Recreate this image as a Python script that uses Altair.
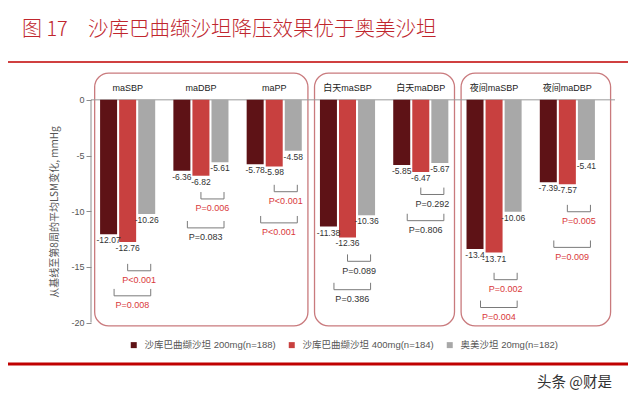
import altair as alt
import pandas as pd

# ---------------- data ----------------
groups = ["maSBP", "maDBP", "maPP", "白天maSBP", "白天maDBP", "夜间maSBP", "夜间maDBP"]
series = ["沙库巴曲缬沙坦 200mg(n=188)", "沙库巴曲缬沙坦 400mg(n=184)", "奥美沙坦 20mg(n=182)"]
sacu_200 = [-12.07, -6.36, -5.78, -11.38, -5.85, -13.4, -7.39]
sacu_400 = [-12.76, -6.82, -5.98, -12.36, -6.47, -13.71, -7.57]
olme_20 = [-10.26, -5.61, -4.58, -10.36, -5.67, -10.06, -5.41]

# P values: 400mg vs olmesartan (upper bracket), 200mg vs olmesartan (lower bracket)
p_400_vs_olme = ["P<0.001", "P=0.006", "P<0.001", "P=0.089", "P=0.292", "P=0.002", "P=0.005"]
p_200_vs_olme = ["P=0.008", "P=0.083", "P<0.001", "P=0.386", "P=0.806", "P=0.004", "P=0.009"]
# bracket levels (in mmHg on the y axis)
level_400_vs_olme = [-15.35, -8.9, -8.25, -14.5, -8.5, -16.15, -10.05]
level_200_vs_olme = [-17.6, -11.5, -11.05, -17.05, -10.85, -18.65, -13.25]

# panels (rounded boxes): first and last group index
panel_first = [0, 3, 5]
panel_last = [2, 4, 6]

y_title = "从基线至第8周的平均LSM变化, mmHg"
fig_no = "图 17"
fig_title = "沙库巴曲缬沙坦降压效果优于奥美沙坦"
watermark = "头条 @财是"

colors = ["#5e1216", "#c8403f", "#a8a8a8"]

# ---------------- tables ----------------
rows = []
for gi, g in enumerate(groups):
    for si, vals in enumerate([sacu_200, sacu_400, olme_20]):
        rows.append({"group": g, "gi": gi, "series": series[si], "si": si,
                     "value": vals[gi], "label": str(vals[gi])})
bars_df = pd.DataFrame(rows)


def is_sig(p):
    return p.startswith("P<") or float(p[2:]) < 0.05


brows = []
for gi in range(len(groups)):
    brows.append({"gi": gi, "from_si": 1, "to_si": 2, "level": level_400_vs_olme[gi],
                  "label": p_400_vs_olme[gi], "sig": is_sig(p_400_vs_olme[gi])})
    brows.append({"gi": gi, "from_si": 0, "to_si": 2, "level": level_200_vs_olme[gi],
                  "label": p_200_vs_olme[gi], "sig": is_sig(p_200_vs_olme[gi])})
br_df = pd.DataFrame(brows)

grp_df = pd.DataFrame({"group": groups, "gi": list(range(len(groups)))})
panel_df = pd.DataFrame({"first": panel_first, "last": panel_last})
one = pd.DataFrame({"k": [0]})

# ---------------- scales / styles ----------------
latin = "Liberation Sans, Noto Sans CJK SC, sans-serif"
cjk = "Noto Sans CJK SC"
xscale = alt.Scale(domain=[-0.5, 6.5], nice=False, zero=False)
yscale = alt.Scale(domain=[-20.4, 2.5], nice=False, zero=False)

yaxis = alt.Axis(values=[0, -5, -10, -15, -20], domain=False, grid=False,
                 tickSize=5, tickColor="#8c8c8c", labelColor="#555555",
                 labelFontSize=9, labelFont=latin, labelPadding=2,
                 labelExpr="'' + datum.value",
                 title=y_title, titleFontSize=10, titleFont=cjk, titleColor="#555555",
                 titleFontWeight="normal", titleX=-37, titleY=139.5, titleAngle=270,
                 titleAlign="center", titleBaseline="middle")


def X(f):
    return alt.X(f, scale=xscale, axis=None)


def Y(f):
    return alt.Y(f, scale=yscale, axis=yaxis)


bar_pos = dict(xc="datum.gi + (datum.si - 1) * 0.26",
               xl="datum.gi + (datum.si - 1) * 0.26 - 0.116",
               xr="datum.gi + (datum.si - 1) * 0.26 + 0.116",
               base="0")

bars = alt.Chart(bars_df).transform_calculate(**bar_pos).mark_rect().encode(
    x=X("xl:Q"),
    x2="xr:Q",
    y=Y("value:Q"),
    y2="base:Q",
    color=alt.Color("series:N", scale=alt.Scale(domain=series, range=colors),
                    legend=alt.Legend(orient="none", legendX=38, legendY=268,
                                      direction="horizontal", title=None,
                                      symbolType="square", symbolSize=36,
                                      symbolStrokeWidth=0, labelFontSize=9.5,
                                      labelColor="#555555", labelFont=latin,
                                      columnPadding=11, labelOffset=6, padding=0)),
)

value_labels = alt.Chart(bars_df).transform_calculate(**bar_pos).mark_text(
    baseline="top", dy=2, fontSize=8.5, color="#333333", font=latin
).encode(x=X("xc:Q"), y=Y("value:Q"), text="label:N")

br_base = alt.Chart(br_df).transform_calculate(
    xa="datum.gi + (datum.from_si - 1) * 0.26 + (datum.from_si == 0 ? 0.075 : 0)",
    xb="datum.gi + (datum.to_si - 1) * 0.26 + 0.055",
).transform_calculate(
    xm="(datum.xa + datum.xb) / 2", top="datum.level + 0.62", ty="datum.level - 0.85")

br_h = br_base.mark_rule(color="#7a7a7a", strokeWidth=1).encode(
    x=X("xa:Q"), x2="xb:Q", y=Y("level:Q"))
br_l = br_base.mark_rule(color="#7a7a7a", strokeWidth=1).encode(
    x=X("xa:Q"), y=Y("level:Q"), y2="top:Q")
br_r = br_base.mark_rule(color="#7a7a7a", strokeWidth=1).encode(
    x=X("xb:Q"), y=Y("level:Q"), y2="top:Q")
p_sig = br_base.transform_filter("datum.sig").mark_text(
    fontSize=9, color="#d9383a", font=latin, baseline="middle").encode(
    x=X("xm:Q"), y=Y("ty:Q"), text="label:N")
p_ns = br_base.transform_filter("!datum.sig").mark_text(
    fontSize=9, color="#333333", font=latin, baseline="middle").encode(
    x=X("xm:Q"), y=Y("ty:Q"), text="label:N")

grp_labels = alt.Chart(grp_df).transform_calculate(ly="1.08").mark_text(
    fontSize=9, color="#222222", font=latin, baseline="middle").encode(
    x=X("gi:Q"), y=Y("ly:Q"), text="group:N")

boxes = alt.Chart(panel_df).transform_calculate(
    x0="datum.first - 0.45",
    x1="datum.last + (datum.last == 6 ? 0.59 : 0.46)",
    y0="2.4", y1="-20.3",
).mark_rect(fillOpacity=0, stroke="#c97a7d", strokeWidth=1.3, cornerRadius=14).encode(
    x=X("x0:Q"), x2="x1:Q", y=Y("y0:Q"), y2="y1:Q")

zero_line = alt.Chart(one).transform_calculate(
    a="-0.5", b="6.65", c="0").mark_rule(color="#9a9a9a", strokeWidth=1).encode(
    x=X("a:Q"), x2="b:Q", y=Y("c:Q"))
axis_line = alt.Chart(one).transform_calculate(
    a="-0.5", c="0", d="-20").mark_rule(color="#8c8c8c", strokeWidth=1).encode(
    x=X("a:Q"), y=Y("c:Q"), y2="d:Q")

title_no = alt.Chart(one).mark_text(
    text=fig_no, fontSize=20, font=cjk, fontWeight=300, color="#c0262d",
    align="left", baseline="middle"
).encode(x=alt.value(-69), y=alt.value(-42))
title_main = alt.Chart(one).mark_text(
    text=fig_title, fontSize=20.5, font=cjk, fontWeight=300, color="#c0262d",
    align="left", baseline="middle"
).encode(x=alt.value(-3), y=alt.value(-42))
top_line = alt.Chart(one).mark_rule(color="#c00000", strokeWidth=1.5).encode(
    x=alt.value(-91), x2=alt.value(545), y=alt.value(-10))
bottom_line = alt.Chart(one).mark_rule(color="#c00000", strokeWidth=3).encode(
    x=alt.value(-91), x2=alt.value(545), y=alt.value(292))
wm = alt.Chart(one).mark_text(
    text=watermark, fontSize=14.5, font=cjk, color="#333333", align="right", baseline="middle"
).encode(x=alt.value(521), y=alt.value(311))

chart = alt.layer(
    boxes, zero_line, bars, axis_line, value_labels, br_h, br_l, br_r, p_sig, p_ns,
    grp_labels, title_no, title_main, top_line, bottom_line, wm
).properties(
    width=513, height=255,
    autosize=alt.AutoSizeParams(type="none"),
    padding={"left": 83, "top": 64, "right": 24, "bottom": 66},
    background="white",
).configure_view(stroke=None)

chart.save("out.html", embed_options={"renderer": "svg", "actions": False})
